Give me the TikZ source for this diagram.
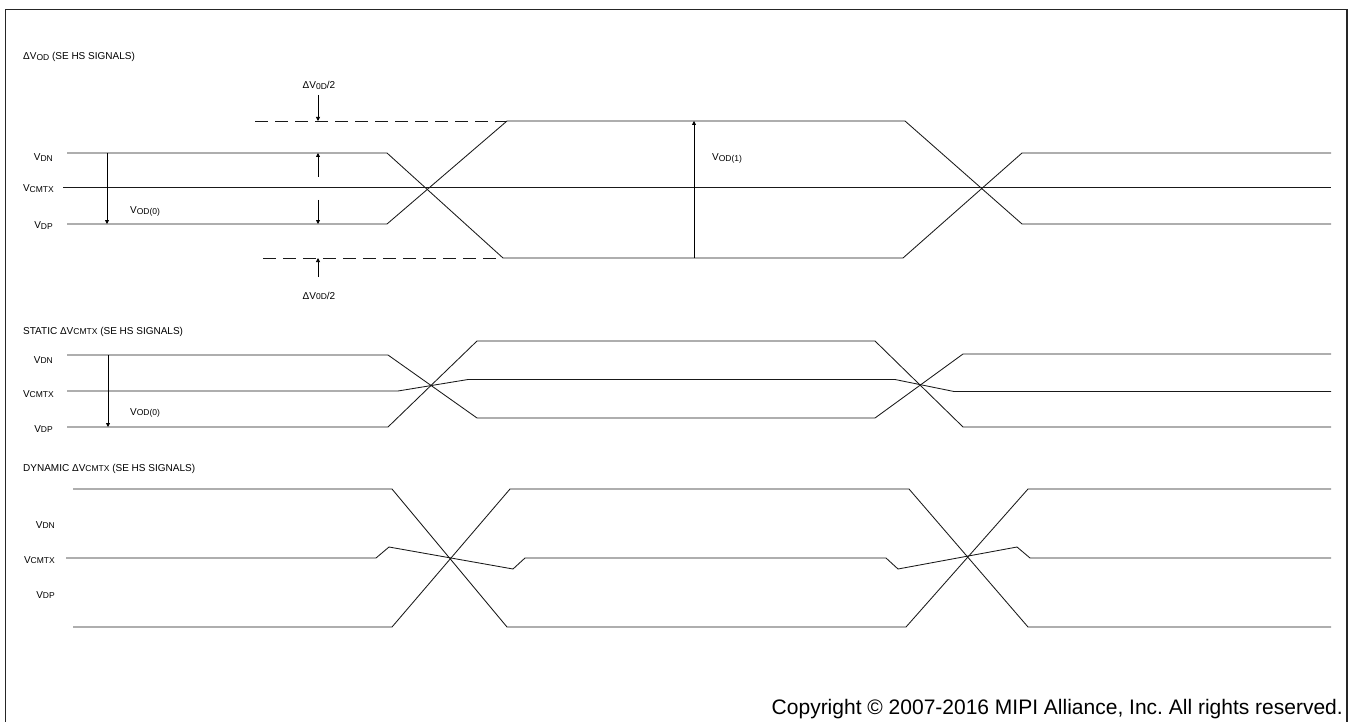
\documentclass[tikz,border=0pt]{standalone}
\usepackage{fontspec}
\setmainfont{Liberation Sans}
\usetikzlibrary{arrows.meta}
\frenchspacing
\newcommand{\sbs}[1]{\raisebox{-0.6pt}{\fontsize{8.5}{10}\selectfont #1}}
\begin{document}
\begin{tikzpicture}[x=1pt,y=-1pt,
  sigline/.style={line width=0.85pt, black!90},
  dashline/.style={line width=0.85pt, black!90, dash pattern=on 13pt off 7pt},
  arr/.style={line width=0.75pt, black, -{Triangle[length=4pt,width=4pt]}},
  lbl/.style={inner sep=0pt, font=\fontsize{10}{12}\selectfont},
  frame/.style={line width=1.8pt, black!85}]
\useasboundingbox (0,0) rectangle (1351,722);
% frame
\draw[frame] (5.5,722) -- (5.5,9.5) -- (1347,9.5) -- (1347,722);

% ---------- section 1 ----------
\node[lbl, anchor=base west] (t1) at (23,60) {ΔV\sbs{OD} (SE HS SIGNALS)};
\node[lbl, anchor=base east] (l1dn) at (53,161) {V\sbs{DN}};
\node[lbl, anchor=base east] (l1cm) at (54,192) {V\sbs{CMTX}};
\node[lbl, anchor=base east] (l1dp) at (53,229) {V\sbs{DP}};

\draw[sigline] (67,153) -- (387,153) -- (503,258) -- (903,258) -- (1022,153) -- (1331,153);
\draw[sigline] (67,224) -- (387,224) -- (507,121) -- (905,121) -- (1022,224) -- (1331,224);
\draw[sigline] (63,187) -- (1331,187);
\draw[dashline] (255,121) -- (507,121);
\draw[dashline] (263,258) -- (503,258);

\node[lbl, anchor=base] (h1) at (319,89) {ΔV\sbs{0D}/2};
\node[lbl, anchor=base] (h2) at (319,299) {ΔV\sbs{0D}/2};
\coordinate (a1s) at (318,95);  \coordinate (a1e) at (318,121);
\coordinate (a2s) at (318,177); \coordinate (a2e) at (318,153);
\coordinate (a3s) at (318,200); \coordinate (a3e) at (318,224);
\coordinate (a4s) at (318,277); \coordinate (a4e) at (318,258);
\draw[arr] (a1s) -- (a1e);
\draw[arr] (a2s) -- (a2e);
\draw[arr] (a3s) -- (a3e);
\draw[arr] (a4s) -- (a4e);

\coordinate (v0s) at (107,153); \coordinate (v0e) at (107,224);
\draw[arr] (v0s) -- (v0e);
\node[lbl, anchor=base west] (v0l) at (130,214) {V\sbs{OD(0)}};

\coordinate (v1s) at (694,258); \coordinate (v1e) at (694,121);
\draw[arr] (v1s) -- (v1e);
\node[lbl, anchor=base west] (v1l) at (712,161) {V\sbs{OD(1)}};

% ---------- section 2 ----------
\node[lbl, anchor=base west] (t2) at (23,334) {STATIC ΔV\sbs{CMTX} (SE HS SIGNALS)};
\node[lbl, anchor=base east] (l2dn) at (53,363) {V\sbs{DN}};
\node[lbl, anchor=base east] (l2cm) at (54,397) {V\sbs{CMTX}};
\node[lbl, anchor=base east] (l2dp) at (53,432) {V\sbs{DP}};

\draw[sigline] (67,355) -- (388,355) -- (477,418) -- (875,418) -- (963,354) -- (1331,354);
\draw[sigline] (67,427) -- (388,427) -- (477,341) -- (875,341) -- (963,427) -- (1331,427);
\draw[sigline] (67,391) -- (398,391) -- (468,379.5) -- (895,379.5) -- (954,391.5) -- (1331,391.5);

\coordinate (v2s) at (108,355); \coordinate (v2e) at (108,427);
\draw[arr] (v2s) -- (v2e);
\node[lbl, anchor=base west] (v2l) at (130,415) {V\sbs{OD(0)}};

% ---------- section 3 ----------
\node[lbl, anchor=base west] (t3) at (23,471) {DYNAMIC ΔV\sbs{CMTX} (SE HS SIGNALS)};
\node[lbl, anchor=base east] (l3dn) at (55,528) {V\sbs{DN}};
\node[lbl, anchor=base east] (l3cm) at (55,563) {V\sbs{CMTX}};
\node[lbl, anchor=base east] (l3dp) at (55,598) {V\sbs{DP}};

\draw[sigline] (73,489) -- (392,489) -- (507,627) -- (906,627) -- (1028,489) -- (1331,489);
\draw[sigline] (73,627) -- (392,627) -- (510,489) -- (909,489) -- (1028,627) -- (1331,627);
\draw[sigline] (66,558) -- (376,558) -- (389,547) -- (513,569) -- (525,558) -- (886,558) -- (898,569) -- (1017,547) -- (1030,558) -- (1331,558);

% ---------- copyright ----------
\node[inner sep=0pt, anchor=base east, font=\fontsize{21}{24}\selectfont] (copy) at (1343,714) {Copyright © 2007-2016 MIPI Alliance, Inc. All rights reserved.};
\end{tikzpicture}
\end{document}
